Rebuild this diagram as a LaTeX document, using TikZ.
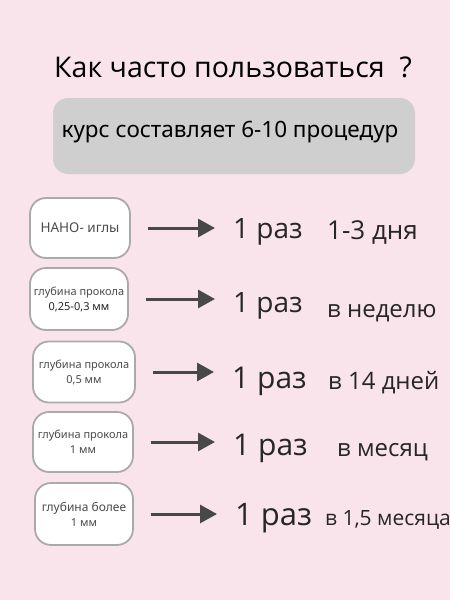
\documentclass[tikz,border=0pt]{standalone}
\usepackage{fontspec}
\setmainfont{Open Sans}
\newfontfamily\boxfont{Noto Sans}
\usetikzlibrary{arrows.meta}
\definecolor{bgpink}{RGB}{250,228,236}
\definecolor{greybox}{RGB}{207,207,207}
\definecolor{frame}{RGB}{170,170,170}
\definecolor{arrowgrey}{RGB}{72,72,72}
\definecolor{boxtext}{RGB}{75,75,75}
\tikzset{
  method/.style={rectangle, rounded corners=16pt, fill=white, draw=frame, line width=1.8pt,
    align=center, text=boxtext, font={\boxfont\fontsize{11}{14}\selectfont}, inner sep=0pt},
  times/.style={anchor=west, inner sep=0pt, font={\fontsize{28}{30}\selectfont}, text=black!85},
  period/.style={anchor=west, inner sep=0pt, font={\fontsize{24}{26}\selectfont}, text=black!85},
  freq/.style={-{Triangle[length=17pt,width=18pt]}, line width=3pt, draw=arrowgrey,
    fill=arrowgrey, shorten <=17pt, shorten >=18pt}
}
\begin{document}
\begin{tikzpicture}[x=1pt, y=-1pt]
  \fill[bgpink] (0,0) rectangle (450,600);
  \useasboundingbox (0,0) rectangle (450,600);

  \node (title) at (233,67) {\fontsize{28.5}{32}\selectfont Как часто пользоваться \ ?};

  \node[rectangle, rounded corners=15pt, fill=greybox, minimum width=362pt, minimum height=76pt]
    (course) at (234,136) {};
  \node (coursetext) at (230,132) {\boxfont\fontsize{22.5}{26}\selectfont курс составляет 6-10 процедур};

  % methods
  \node[method, minimum width=100pt, minimum height=60pt] (nano) at (80,228)
    {\fontsize{13.5}{16}\selectfont НАНО- иглы};
  \node[method, minimum width=98pt, minimum height=62pt] (depthA) at (79,299)
    {глубина прокола\\[1pt]\color{black!85}0,25-0,3 мм};
  \node[method, minimum width=102pt, minimum height=61pt] (depthB) at (84,372)
    {глубина прокола\\[1pt]0,5 мм};
  \node[method, minimum width=100pt, minimum height=60pt] (depthC) at (83,442)
    {глубина прокола\\[1pt]1 мм};
  \node[method, minimum width=98pt, minimum height=62pt] (depthD) at (84,514)
    {\fontsize{12}{15}\selectfont глубина более\\[1pt]1 мм};

  % how often
  \node[times] (onceA) at (233,232) {1 раз};
  \node[period, font={\fontsize{26}{28}\selectfont}] (whenA) at (327,232) {1-3 дня};
  \node[times] (onceB) at (233,306) {1 раз};
  \node[period] (whenB) at (327,313) {в неделю};
  \node[times, font={\fontsize{30}{32}\selectfont}] (onceC) at (232,381) {1 раз};
  \node[period] (whenC) at (328,383) {в 14 дней};
  \node[times, font={\fontsize{30}{32}\selectfont}] (onceD) at (233,448) {1 раз};
  \node[period] (whenD) at (337,452) {в месяц};
  \node[times, font={\fontsize{31}{33}\selectfont}] (onceE) at (235,518) {1 раз};
  \node[period, font={\fontsize{21}{23}\selectfont}] (whenE) at (325,520) {в 1,5 месяца};

  \draw[freq] (nano.east) -- (nano.east -| onceA.west);
  \draw[freq] (depthA.east) -- (depthA.east -| onceB.west);
  \draw[freq] (depthB.east) -- (depthB.east -| onceC.west);
  \draw[freq] (depthC.east) -- (depthC.east -| onceD.west);
  \draw[freq] (depthD.east) -- (depthD.east -| onceE.west);
\end{tikzpicture}
\end{document}
